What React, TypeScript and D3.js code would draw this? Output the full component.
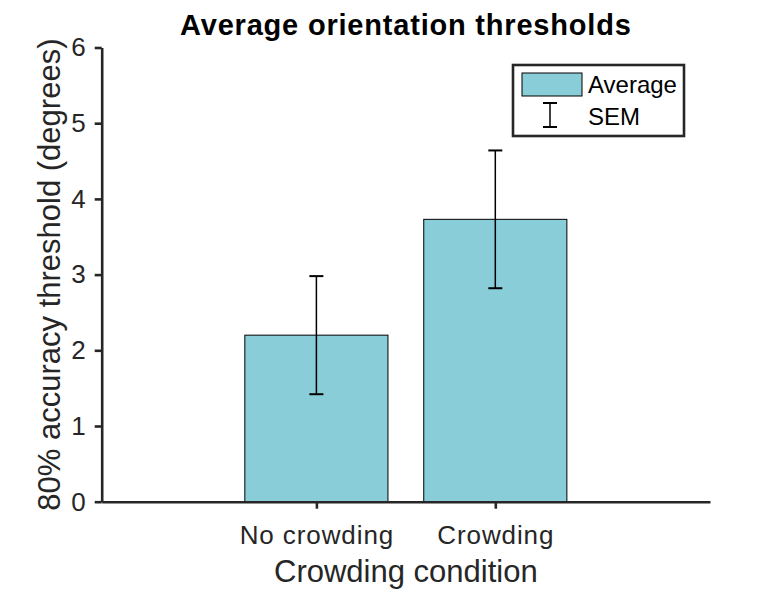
import React, { useEffect, useRef } from 'react';
import * as d3 from 'd3';

// chart data
const categories = ['No crowding', 'Crowding'];
const averages = [2.2, 3.73];
const sems = [0.78, 0.91];
const yTicks = [0, 1, 2, 3, 4, 5, 6];

const AXIS = '#262626';
const BAR_FILL = '#88CDD7';
const FONT = '"Liberation Sans", Arial, Helvetica, sans-serif';

const App: React.FC = () => {
  const chartRef = useRef<SVGSVGElement>(null);

  useEffect(() => {
    if (!chartRef.current) return;
    document.body.style.margin = '0';

    const margin = { top: 47.5, right: 72, bottom: 88.3, left: 101.7 };
    const fullW = 782;
    const fullH = 590;
    const width = fullW - margin.left - margin.right;
    const height = fullH - margin.top - margin.bottom;

    const root = d3.select(chartRef.current);
    root.selectAll('*').remove();
    root.attr('width', fullW).attr('height', fullH);

    const svg = root
      .append('g')
      .attr('transform', 'translate(' + margin.left + ',' + margin.top + ')');

    // categories sit at 1 and 2 on a numeric axis, like matlab's bar()
    const x = d3.scaleLinear().domain([-0.2, 3.2]).range([0, width]);
    const y = d3.scaleLinear().domain([0, 6]).range([height, 0]);
    const barW = x(0.8) - x(0);

    const data = categories.map((c, i) => ({
      name: c,
      pos: i + 1,
      avg: averages[i],
      sem: sems[i],
    }));

    // bars
    svg
      .selectAll('rect.bar')
      .data(data)
      .enter()
      .append('rect')
      .attr('class', 'bar')
      .attr('x', (d) => x(d.pos) - barW / 2)
      .attr('y', (d) => y(d.avg))
      .attr('width', barW)
      .attr('height', (d) => y(0) - y(d.avg))
      .attr('fill', BAR_FILL)
      .attr('stroke', '#000')
      .attr('stroke-width', 1);

    // error bars
    const cap = 7;
    const eb = svg.selectAll('g.err').data(data).enter().append('g').attr('class', 'err');
    eb.append('line')
      .attr('x1', (d) => x(d.pos))
      .attr('x2', (d) => x(d.pos))
      .attr('y1', (d) => y(d.avg - d.sem))
      .attr('y2', (d) => y(d.avg + d.sem))
      .attr('stroke', '#000')
      .attr('stroke-width', 1.5);
    [-1, 1].forEach((s) => {
      eb.append('line')
        .attr('x1', (d) => x(d.pos) - cap)
        .attr('x2', (d) => x(d.pos) + cap)
        .attr('y1', (d) => y(d.avg + s * d.sem))
        .attr('y2', (d) => y(d.avg + s * d.sem))
        .attr('stroke', '#000')
        .attr('stroke-width', 2);
    });

    // x axis
    const xAxis = svg
      .append('g')
      .attr('transform', 'translate(0,' + height + ')')
      .call(
        d3
          .axisBottom(x)
          .tickValues(data.map((d) => d.pos))
          .tickFormat((d, i) => categories[i])
          .tickSize(7)
          .tickSizeOuter(0)
          .tickPadding(16.5)
      );
    xAxis.select('.domain').attr('stroke', AXIS).attr('stroke-width', 2.6);
    xAxis.selectAll('.tick line').attr('stroke', AXIS).attr('stroke-width', 2.6);
    xAxis
      .selectAll('.tick text')
      .attr('fill', AXIS)
      .attr('font-family', FONT)
      .attr('font-size', 26)
      .attr('letter-spacing', 0.9);

    // y axis
    const yAxis = svg
      .append('g')
      .call(
        d3
          .axisLeft(y)
          .tickValues(yTicks)
          .tickFormat(d3.format('d'))
          .tickSize(7)
          .tickSizeOuter(0)
          .tickPadding(9)
      );
    yAxis.select('.domain').attr('stroke', AXIS).attr('stroke-width', 2.6);
    yAxis.selectAll('.tick line').attr('stroke', AXIS).attr('stroke-width', 2.6);
    yAxis
      .selectAll('.tick text')
      .attr('fill', AXIS)
      .attr('font-family', FONT)
      .attr('font-size', 26);

    // labels
    root
      .append('text')
      .attr('x', margin.left + width / 2)
      .attr('y', 582)
      .attr('text-anchor', 'middle')
      .attr('font-family', FONT)
      .attr('font-size', 31)
      .attr('fill', AXIS)
      .text('Crowding condition');

    root
      .append('text')
      .attr('transform', 'translate(60,' + (margin.top + height / 2) + ') rotate(-90)')
      .attr('text-anchor', 'middle')
      .attr('font-family', FONT)
      .attr('font-size', 31)
      .attr('fill', AXIS)
      .text('80% accuracy threshold (degrees)');

    root
      .append('text')
      .attr('x', margin.left + width / 2)
      .attr('y', 35)
      .attr('text-anchor', 'middle')
      .attr('font-family', FONT)
      .attr('font-size', 29)
      .attr('font-weight', 'bold')
      .attr('letter-spacing', 0.8)
      .attr('fill', '#000')
      .text('Average orientation thresholds');

    // legend
    const lg = root.append('g').attr('transform', 'translate(513,65)');
    lg.append('rect')
      .attr('width', 171)
      .attr('height', 71)
      .attr('fill', '#fff')
      .attr('stroke', AXIS)
      .attr('stroke-width', 2.6);
    lg.append('rect')
      .attr('x', 9)
      .attr('y', 8)
      .attr('width', 60)
      .attr('height', 23)
      .attr('fill', BAR_FILL)
      .attr('stroke', '#000')
      .attr('stroke-width', 1);
    lg.append('line').attr('x1', 37).attr('x2', 37).attr('y1', 38).attr('y2', 62).attr('stroke', '#000').attr('stroke-width', 1.5);
    lg.append('line').attr('x1', 30).attr('x2', 44).attr('y1', 38).attr('y2', 38).attr('stroke', '#000').attr('stroke-width', 2);
    lg.append('line').attr('x1', 30).attr('x2', 44).attr('y1', 62).attr('y2', 62).attr('stroke', '#000').attr('stroke-width', 2);
    lg.append('text')
      .attr('x', 75)
      .attr('y', 28)
      .attr('font-family', FONT)
      .attr('font-size', 24)
      .attr('fill', '#000')
      .text('Average');
    lg.append('text')
      .attr('x', 75)
      .attr('y', 60)
      .attr('font-family', FONT)
      .attr('font-size', 24)
      .attr('fill', '#000')
      .text('SEM');
  }, []);

  return <svg ref={chartRef} style={{ display: 'block' }}></svg>;
};

export default App;
